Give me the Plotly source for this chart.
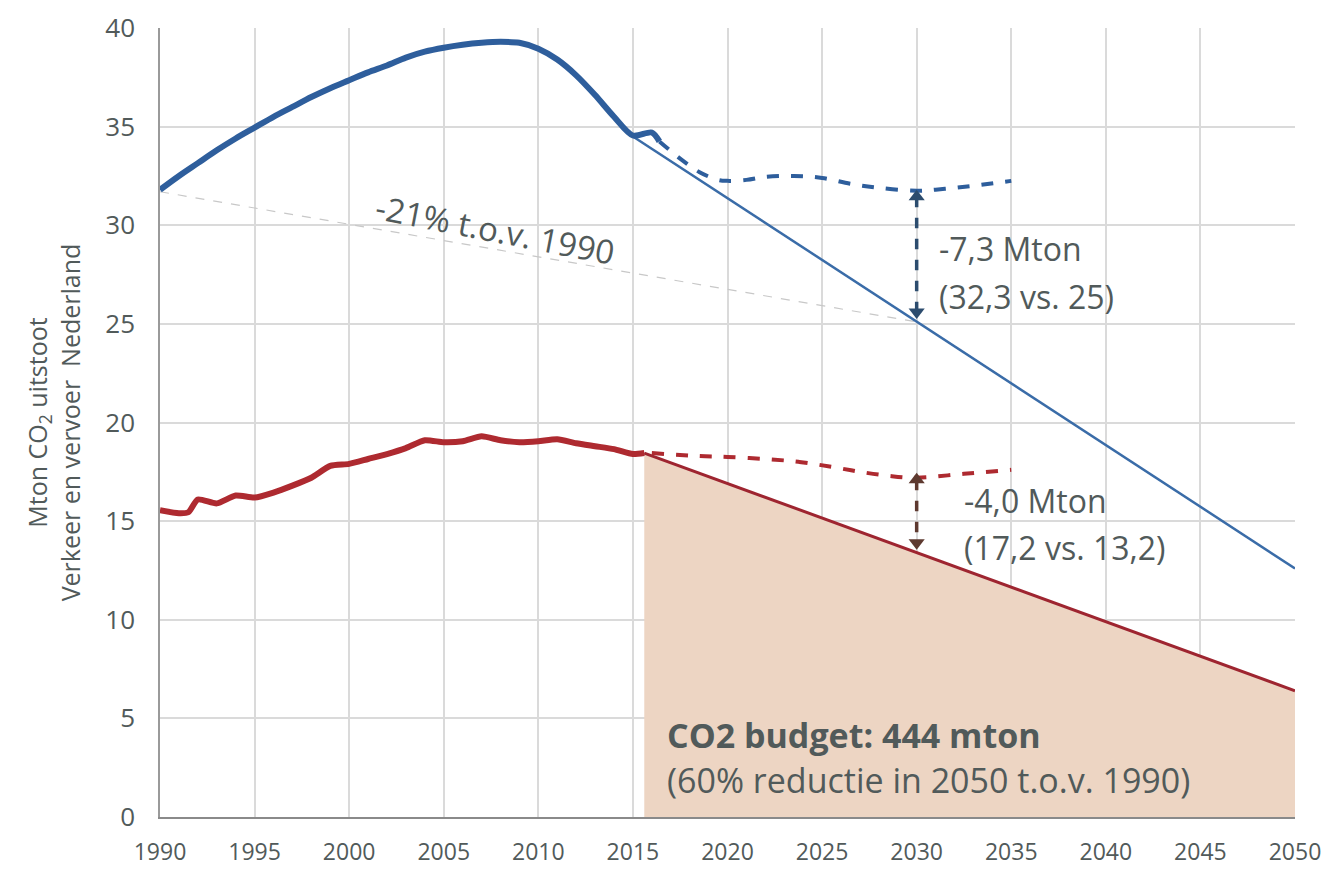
import plotly.graph_objects as go

# ---------------- data ----------------
blue_hist_years = [1990, 1991, 1992, 1993, 1994, 1995, 1996, 1997, 1998, 1999, 2000,
                   2001, 2002, 2003, 2004, 2005, 2006, 2007, 2008, 2009, 2010,
                   2011, 2012, 2013, 2014, 2015, 2016, 2016.4]
blue_hist_vals = [31.8, 32.5, 33.15, 33.8, 34.4, 34.95, 35.5, 36.0, 36.5, 36.95, 37.35,
                  37.75, 38.1, 38.5, 38.8, 39.0, 39.15, 39.25, 39.3, 39.25, 38.95,
                  38.4, 37.6, 36.6, 35.5, 34.55, 34.7, 34.25]

blue_proj_years = [2016.4, 2017.6, 2018.5, 2019.5, 2020, 2021, 2022, 2023.5, 2025, 2026.5, 2028,
                   2030, 2031.5, 2033, 2035]
blue_proj_vals = [34.25, 33.3, 32.7, 32.3, 32.25, 32.3, 32.45, 32.5, 32.4, 32.1, 31.9,
                  31.75, 31.85, 32.0, 32.25]

blue_target_years = [2015, 2050]
blue_target_vals = [34.5, 12.6]

ref_years = [1990, 2030]
ref_vals = [31.7, 25.1]

red_hist_years = [1990, 1991, 1991.5, 1992, 1993, 1994, 1995, 1996, 1997, 1998, 1999, 2000,
                  2001, 2002, 2003, 2004, 2005, 2006, 2007, 2008, 2009, 2010,
                  2011, 2012, 2013, 2014, 2015, 2015.6]
red_hist_vals = [15.55, 15.4, 15.45, 16.1, 15.9, 16.3, 16.2, 16.45, 16.8, 17.2, 17.8, 17.9,
                 18.15, 18.4, 18.7, 19.1, 19.0, 19.05, 19.3, 19.1, 19.0, 19.05,
                 19.15, 18.95, 18.8, 18.65, 18.4, 18.45]

red_proj_years = [2016, 2018.5, 2020, 2022, 2023.8, 2025.5, 2027, 2028.5, 2030, 2032.5, 2035]
red_proj_vals = [18.45, 18.3, 18.25, 18.15, 18.0, 17.75, 17.5, 17.3, 17.2, 17.4, 17.6]

red_target_years = [2015.6, 2050]
red_target_vals = [18.45, 6.4]

blue_gap_year = [2030, 2030]
blue_gap_vals = [31.45, 25.6]
red_gap_year = [2030, 2030]
red_gap_vals = [17.1, 13.9]

x_ticks = [1990, 1995, 2000, 2005, 2010, 2015, 2020, 2025, 2030, 2035, 2040, 2045, 2050]
y_ticks = [0, 5, 10, 15, 20, 25, 30, 35, 40]

# ---------------- styles ----------------
BLUE = "#2E5E9C"
BLUE_T = "#3A6CA8"
RED = "#AE2A30"
FILL = "#EDD5C3"
TXT = "#515a5a"
FONT = "Open Sans"

fig = go.Figure()

# budget fill
fig.add_trace(go.Scatter(x=red_target_years, y=red_target_vals, mode="lines",
                         line=dict(width=0, color=FILL), fill="tozeroy",
                         fillcolor=FILL, hoverinfo="skip", showlegend=False))

# reference -21% line
fig.add_trace(go.Scatter(x=ref_years, y=ref_vals, mode="lines",
                         line=dict(color="#c8c8c8", width=1.2, dash="dash"),
                         showlegend=False))

# blue target
fig.add_trace(go.Scatter(x=blue_target_years, y=blue_target_vals, mode="lines",
                         line=dict(color=BLUE_T, width=2.5), showlegend=False))
# red target
fig.add_trace(go.Scatter(x=red_target_years, y=red_target_vals, mode="lines",
                         line=dict(color="#9E2530", width=3), showlegend=False))

# blue projection
fig.add_trace(go.Scatter(x=blue_proj_years, y=blue_proj_vals, mode="lines",
                         line=dict(color=BLUE, width=4, dash="dash", shape="spline"),
                         showlegend=False))
# red projection
fig.add_trace(go.Scatter(x=red_proj_years, y=red_proj_vals, mode="lines",
                         line=dict(color=RED, width=4, dash="dash", shape="spline"),
                         showlegend=False))

# historical
fig.add_trace(go.Scatter(x=blue_hist_years, y=blue_hist_vals, mode="lines",
                         line=dict(color=BLUE, width=6, shape="spline", smoothing=0.8),
                         showlegend=False))
fig.add_trace(go.Scatter(x=red_hist_years, y=red_hist_vals, mode="lines",
                         line=dict(color=RED, width=6, shape="spline", smoothing=0.6),
                         showlegend=False))

# gap arrows
for xs, ys, col in [(blue_gap_year, blue_gap_vals, "#2C4C6E"),
                    (red_gap_year, red_gap_vals, "#5E3A30")]:
    fig.add_trace(go.Scatter(x=xs, y=ys, mode="lines+markers",
                             line=dict(color=col, width=3.5, dash="dash"),
                             marker=dict(symbol=["triangle-up", "triangle-down"], size=14,
                                         color=col),
                             showlegend=False))

# ---------------- annotations ----------------
ann = [
    dict(x=2007.7, y=29.8, text="-21% t.o.v. 1990", textangle=11, size=33),
    dict(x=2031.1, y=28.8, text="-7,3 Mton", xanchor="left", size=32),
    dict(x=2031.1, y=26.4, text="(32,3 vs. 25)", xanchor="left", size=32),
    dict(x=2032.4, y=16.05, text="-4,0 Mton", xanchor="left", size=32),
    dict(x=2032.4, y=13.65, text="(17,2 vs. 13,2)", xanchor="left", size=32),
    dict(x=2016.7, y=4.16, text="<b>CO2 budget: 444 mton</b>", xanchor="left", size=34),
    dict(x=2016.7, y=1.88, text="(60% reductie in 2050 t.o.v. 1990)", xanchor="left", size=34),
]
for a in ann:
    fig.add_annotation(x=a["x"], y=a["y"], xref="x", yref="y", text=a["text"],
                       showarrow=False, xanchor=a.get("xanchor", "center"),
                       yanchor="middle", textangle=a.get("textangle", 0),
                       font=dict(family=FONT, size=a["size"], color=TXT))

# the page body adds an 8px margin; figure sized so it exactly fills the window
fig.update_layout(
    width=1324, height=864,
    margin=dict(l=152, r=37, t=20, b=55),
    paper_bgcolor="white", plot_bgcolor="white",
    font=dict(family=FONT, color=TXT),
    showlegend=False,
)
fig.update_xaxes(range=[1990, 2050], tickvals=x_ticks, ticktext=[str(v) for v in x_ticks],
                 showgrid=True, gridcolor="#dadada", gridwidth=1.5,
                 showline=True, linecolor="#8a8a8a", linewidth=2,
                 zeroline=False, ticks="", ticklabelstandoff=13, automargin=False,
                 tickfont=dict(size=23, color=TXT, family=FONT))
fig.update_yaxes(range=[0, 40], tickvals=y_ticks, ticktext=[str(v) for v in y_ticks],
                 showgrid=True, gridcolor="#dadada", gridwidth=1.5,
                 showline=True, linecolor="#9a9a9a", linewidth=1.5,
                 zeroline=False, ticks="", ticklabelstandoff=18, automargin=False,
                 tickfont=dict(size=26, color=TXT, family=FONT),
                 title=dict(text="Mton CO<sub>2</sub> uitstoot<br>Verkeer en vervoer  Nederland",
                            font=dict(size=25, color=TXT, family=FONT), standoff=18))

fig.write_html("out.html")
